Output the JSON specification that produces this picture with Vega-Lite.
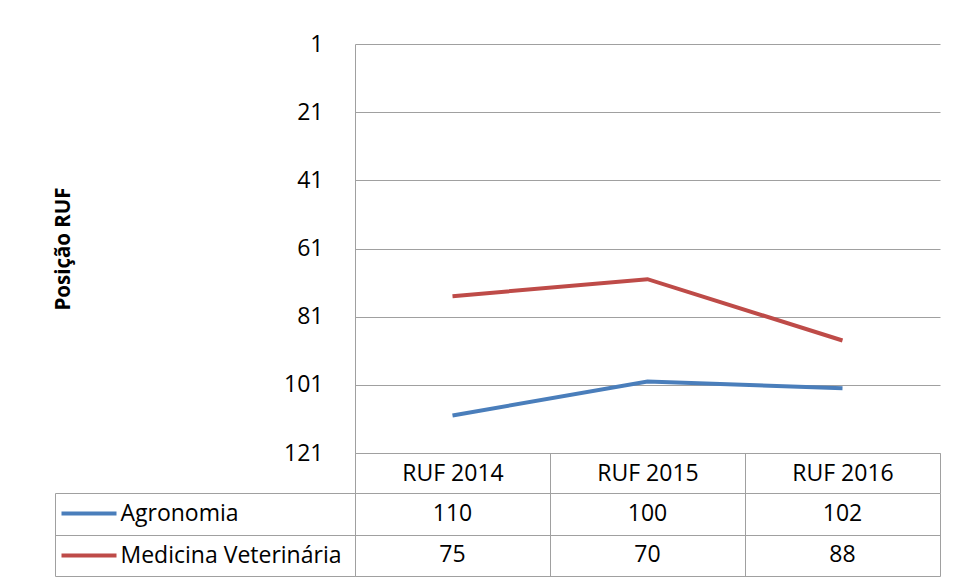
{
  "$schema": "https://vega.github.io/schema/vega-lite/v6.json",
  "padding": {"left": 53, "top": 33, "right": 5, "bottom": 5},
  "background": "white",
  "bounds": "flush",
  "spacing": 40,
  "config": {"font": "Open Sans", "view": {"stroke": null}},
  "data": {
    "values": [
      {"curso": "Agronomia", "ano": "RUF 2014", "posicao": 110},
      {"curso": "Agronomia", "ano": "RUF 2015", "posicao": 100},
      {"curso": "Agronomia", "ano": "RUF 2016", "posicao": 102},
      {"curso": "Medicina Veterinária", "ano": "RUF 2014", "posicao": 75},
      {"curso": "Medicina Veterinária", "ano": "RUF 2015", "posicao": 70},
      {"curso": "Medicina Veterinária", "ano": "RUF 2016", "posicao": 88}
    ]
  },
  "vconcat": [
    {
      "width": 585,
      "height": 409,
      "mark": {"type": "line", "strokeWidth": 4},
      "encoding": {
        "x": {
          "field": "ano", "type": "nominal", "bandPosition": 0.5,
          "scale": {"type": "band", "paddingInner": 0, "paddingOuter": 0},
          "axis": {
            "orient": "bottom", "title": null, "domain": true, "domainColor": "#a0a0a0",
            "ticks": true, "tickBand": "extent", "tickSize": 40, "tickColor": "#a0a0a0",
            "labelPadding": -20, "labelBaseline": "middle", "labelFontSize": 23,
            "labelColor": "#000", "labelAngle": 0, "grid": false
          }
        },
        "y": {
          "field": "posicao", "type": "quantitative",
          "scale": {"domain": [1, 121], "reverse": true, "nice": false, "zero": false},
          "axis": {
            "values": [1, 21, 41, 61, 81, 101, 121], "grid": true, "gridColor": "#a0a0a0",
            "domain": true, "domainColor": "#a0a0a0", "ticks": false, "labelPadding": 32,
            "labelFontSize": 23, "labelColor": "#000", "title": "Posição RUF",
            "titleFontSize": 20.5, "titleFontWeight": "bold", "titleColor": "#000",
            "titlePadding": 210
          }
        },
        "color": {
          "field": "curso", "type": "nominal",
          "scale": {"domain": ["Agronomia", "Medicina Veterinária"], "range": ["#4A7EBB", "#BE4B48"]},
          "legend": null
        }
      }
    },
    {
      "width": 585,
      "height": 83,
      "layer": [
        {
          "mark": {"type": "text", "fontSize": 23, "color": "#000", "baseline": "middle"},
          "encoding": {
            "x": {
              "field": "ano", "type": "nominal",
              "scale": {"type": "band", "paddingInner": 0, "paddingOuter": 0},
              "axis": {"title": null, "labels": false, "ticks": false, "domain": false, "grid": true, "tickBand": "extent", "gridColor": "#a0a0a0"}
            },
            "y": {
              "field": "curso", "type": "nominal",
              "axis": {
                "orient": "left", "title": null, "domain": true, "domainColor": "#a0a0a0", "ticks": true,
                "tickBand": "extent", "tickSize": 300, "tickColor": "#a0a0a0", "grid": true,
                "gridColor": "#a0a0a0", "labelPadding": -65, "labelAlign": "left",
                "labelFontSize": 23, "labelColor": "#000", "labelLimit": 400
              }
            },
            "text": {"field": "posicao", "type": "quantitative"}
          }
        },
        {
          "mark": {"type": "text", "text": ""},
          "encoding": {
            "y": {
              "field": "curso", "type": "nominal",
              "axis": {
                "orient": "left", "title": null, "offset": 239, "domain": false, "labels": false, "grid": false,
                "ticks": true, "tickSize": 55, "tickWidth": 4,
                "tickColor": {"condition": {"test": "datum.value === 'Agronomia'", "value": "#4A7EBB"}, "value": "#BE4B48"}
              }
            }
          }
        },
        {
          "mark": {"type": "text", "text": ""},
          "encoding": {
            "y": {
              "field": "curso", "type": "nominal",
              "axis": {"orient": "left", "title": null, "offset": 300, "domain": true, "domainColor": "#a0a0a0", "labels": false, "ticks": false, "grid": false}
            }
          }
        }
      ],
      "resolve": {"axis": {"y": "independent"}}
    }
  ]
}
